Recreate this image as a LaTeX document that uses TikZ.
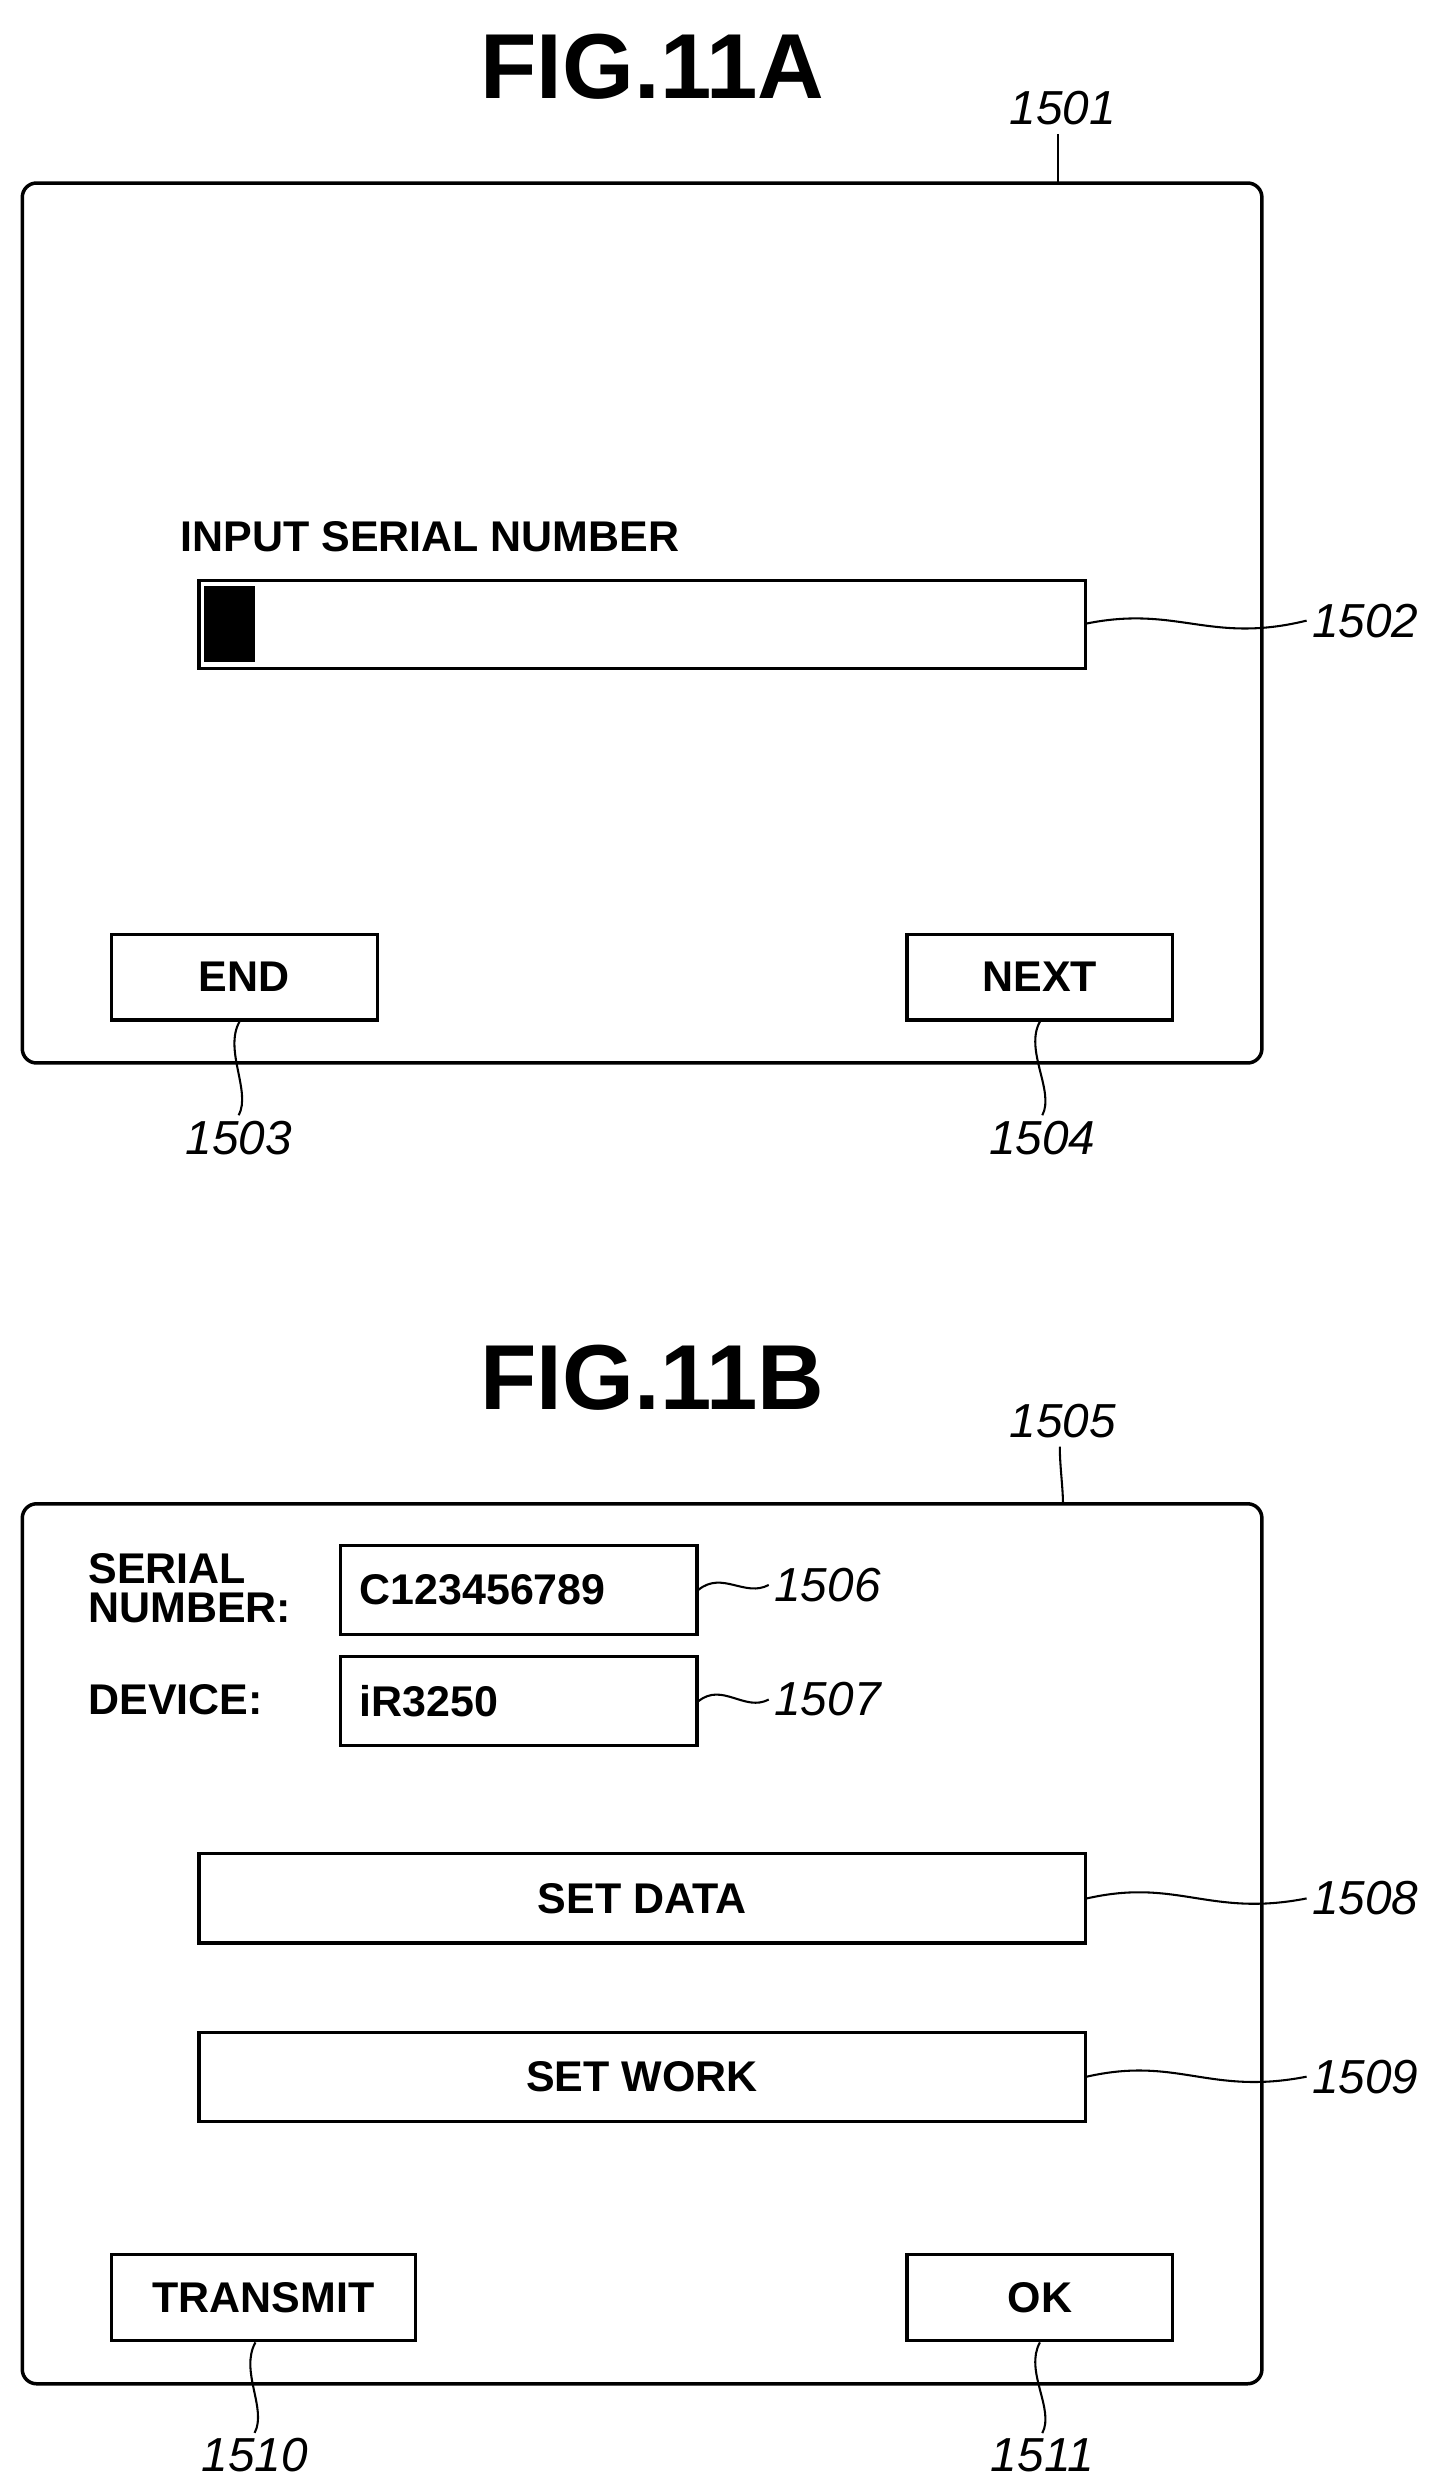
\documentclass[tikz,border=0pt]{standalone}
\usepackage{fontspec}
\setmainfont{Liberation Sans}
\begin{document}
\begin{tikzpicture}[x=1pt,y=-1pt,
  frame/.style={draw,line width=2.2pt,rounded corners=9pt},
  box/.style={draw,line width=2pt},
  lead/.style={line width=1.3pt},
  ttl/.style={font=\fontsize{58}{60}\selectfont\bfseries},
  lbl/.style={font=\fontsize{30}{32}\selectfont\itshape},
  txt/.style={font=\fontsize{27}{27}\selectfont\bfseries}]
\useasboundingbox (0,0) rectangle (905,1561);
% FIG 11A
\node[ttl] (t1) at (410,42) {FIG.11A};
\draw[frame] (14,115) rectangle (793,668);
\node[lbl] (l1501) at (668,68) {1501};
\coordinate (f1) at (665,115);
\draw[lead] (l1501.south) ++(-3,2) .. controls +(0,12) and +(0,-10) .. (f1);
\node[txt,anchor=west] (ins) at (110,337) {INPUT SERIAL NUMBER};
\draw[box] (125,365) rectangle (682,420);
\fill (128,368) rectangle (160,416);
\node[lbl] (l1502) at (858,390) {1502};
\coordinate (b2) at (682,392);
\draw[lead] (b2) .. controls (740,380) and (760,405) .. (l1502.west);
\node[box,minimum width=167pt,minimum height=54pt,txt] (end) at (153.5,614) {END};
\node[box,minimum width=167pt,minimum height=54pt,txt] (next) at (653.5,614) {NEXT};
\node[lbl] (l1503) at (150,715) {1503};
\node[lbl] (l1504) at (655,715) {1504};
\draw[lead] (end.south) ++(-3,0) .. controls +(-10,18) and +(8,-15) .. (l1503.north);
\draw[lead] (next.south) .. controls +(-10,18) and +(8,-15) .. (l1504.north);
% FIG 11B
\node[ttl] (t2) at (410,866) {FIG.11B};
\draw[frame] (14,945) rectangle (793,1498);
\node[lbl] (l1505) at (668,893) {1505};
\coordinate (f2) at (668,945);
\draw[lead] (l1505.south) ++(-2,2) .. controls +(0,12) and +(0,-10) .. (f2);
\node[txt,anchor=west,align=left,font=\fontsize{27}{25}\selectfont\bfseries] (sn) at (52,998) {SERIAL\\NUMBER:};
\node[box,minimum width=224pt,minimum height=56pt,txt,anchor=north west,text width=200pt,align=left] (snb) at (213,970) {C123456789};
\node[txt,anchor=west] (dev) at (52,1068) {DEVICE:};
\node[box,minimum width=224pt,minimum height=56pt,txt,anchor=north west,text width=200pt,align=left] (devb) at (213,1040) {iR3250};
\node[lbl] (l1506) at (520,996) {1506};
\node[lbl] (l1507) at (520,1068) {1507};
\draw[lead] (snb.east) .. controls +(15,-12) and +(-15,8) .. (l1506.west);
\draw[lead] (devb.east) .. controls +(15,-12) and +(-15,8) .. (l1507.west);
\node[box,minimum width=557pt,minimum height=56pt,txt] (sd) at (403.5,1193) {SET DATA};
\node[box,minimum width=557pt,minimum height=56pt,txt] (sw) at (403.5,1305) {SET WORK};
\node[lbl] (l1508) at (858,1193) {1508};
\node[lbl] (l1509) at (858,1305) {1509};
\draw[lead] (sd.east) .. controls (740,1180) and (760,1205) .. (l1508.west);
\draw[lead] (sw.east) .. controls (740,1292) and (760,1317) .. (l1509.west);
\node[box,minimum width=191pt,minimum height=54pt,txt] (tr) at (165.5,1444) {TRANSMIT};
\node[box,minimum width=167pt,minimum height=54pt,txt] (ok) at (653.5,1444) {OK};
\node[lbl] (l1510) at (160,1543) {1510};
\node[lbl] (l1511) at (655,1543) {1511};
\draw[lead] (tr.south) ++(-5,0) .. controls +(-10,18) and +(8,-15) .. (l1510.north);
\draw[lead] (ok.south) .. controls +(-10,18) and +(8,-15) .. (l1511.north);
\end{tikzpicture}
\end{document}
